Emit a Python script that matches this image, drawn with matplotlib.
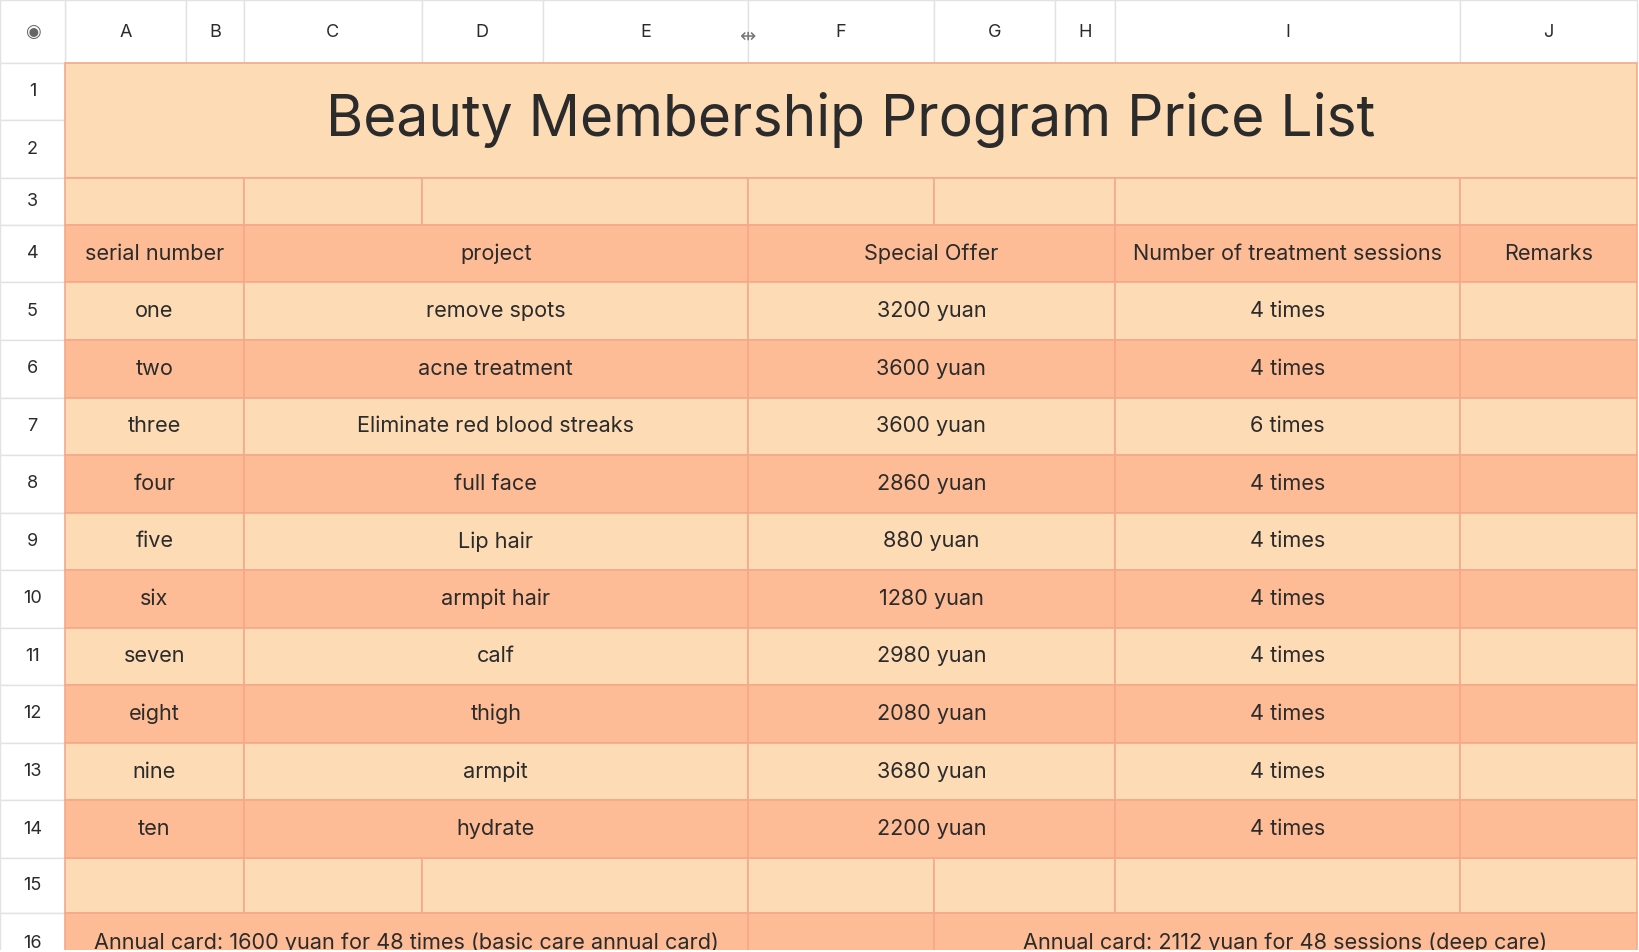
import matplotlib.pyplot as plt
from matplotlib.patches import Rectangle

plt.rcParams['font.family'] = ['Inter', 'DejaVu Sans']

col_letters = ["A", "B", "C", "D", "E", "F", "G", "H", "I", "J"]
col_edges = [62, 178, 233, 403, 519, 715, 893, 1009, 1066, 1396, 1565]
row_edges = [60, 115, 170, 215, 270, 325, 380, 435, 490, 545, 600, 655, 710, 765, 820, 873, 930]

title = "Beauty Membership Program Price List"
headers = ["serial number", "project", "Special Offer", "Number of treatment sessions", "Remarks"]
serials = ["one", "two", "three", "four", "five", "six", "seven", "eight", "nine", "ten"]
projects = ["remove spots", "acne treatment", "Eliminate red blood streaks", "full face", "Lip hair",
            "armpit hair", "calf", "thigh", "armpit", "hydrate"]
prices = [3200, 3600, 3600, 2860, 880, 1280, 2980, 2080, 3680, 2200]
sessions = [4, 4, 6, 4, 4, 4, 4, 4, 4, 4]
footer = ["Annual card: 1600 yuan for 48 times (basic care annual card)",
          "Annual card: 2112 yuan for 48 sessions (deep care)"]

LIGHT = "#fddbb5"
DARK = "#fdbc95"
LINE = "#f5a98a"
HDR_LINE = "#e2e2e2"
TXT = "#2b2b2b"
BODY = 15.6

W, H = 1568, 910
fig = plt.figure(figsize=(16.4, 9.52), dpi=100)
ax = fig.add_axes([0, 0, 1, 1])
ax.set_xlim(0, W)
ax.set_ylim(H, 0)
ax.axis("off")
ax.add_patch(Rectangle((0, 0), W, H, facecolor="white", edgecolor="none"))


def cell(x0, x1, y0, y1, color, text=None, size=BODY):
    ax.add_patch(Rectangle((x0, y0), x1 - x0, y1 - y0, facecolor=color,
                           edgecolor=LINE, linewidth=1.2, clip_on=True))
    if text:
        ax.text((x0 + x1) / 2, (y0 + y1) / 2, text, ha="center", va="center",
                fontsize=size, color=TXT, clip_on=True)


def row_span(r):
    return row_edges[r - 1], row_edges[r]


# column header strip
for i, c in enumerate(col_letters):
    x0, x1 = col_edges[i], col_edges[i + 1]
    ax.add_patch(Rectangle((x0, 0), x1 - x0, 60, facecolor="white", edgecolor=HDR_LINE, linewidth=1))
    ax.text((x0 + x1) / 2, 31, c, ha="center", va="center", fontsize=13, color=TXT)
ax.add_patch(Rectangle((0, 0), 62, 60, facecolor="white", edgecolor=HDR_LINE, linewidth=1))
ax.text(31, 31, "\u25c9", ha="center", va="center", fontsize=13, color="#666666")
ax.text(714, 35, "\u21f9", ha="center", va="center", fontsize=14, color="#777777")

# row header strip
for r in range(1, 17):
    y0, y1 = row_span(r)
    ax.add_patch(Rectangle((0, y0), 62, y1 - y0, facecolor="white", edgecolor=HDR_LINE, linewidth=1))
    ax.text(31, (y0 + y1) / 2, str(r), ha="center", va="center", fontsize=13, color=TXT, clip_on=True)

e = col_edges
# title
cell(e[0], e[10], row_edges[0], row_edges[2], LIGHT, title, size=41)

# empty rows 3 and 15
for r in (3, 15):
    y0, y1 = row_span(r)
    for a, b in [(0, 2), (2, 3), (3, 5), (5, 6), (6, 8), (8, 9), (9, 10)]:
        cell(e[a], e[b], y0, y1, LIGHT)

# header row + data rows
groups = [(0, 2), (2, 5), (5, 8), (8, 9), (9, 10)]
y0, y1 = row_span(4)
for (a, b), h in zip(groups, headers):
    cell(e[a], e[b], y0, y1, DARK, h)
for i in range(len(serials)):
    r = 5 + i
    y0, y1 = row_span(r)
    color = DARK if r % 2 == 0 else LIGHT
    vals = [serials[i], projects[i], f"{prices[i]} yuan", f"{sessions[i]} times", ""]
    for (a, b), v in zip(groups, vals):
        cell(e[a], e[b], y0, y1, color, v)

# footer row
y0, y1 = row_span(16)
cell(e[0], e[5], y0, y1, DARK, None)
cell(e[5], e[6], y0, y1, DARK, None)
cell(e[6], e[10], y0, y1, DARK, None)
ax.text((e[0] + e[5]) / 2, 901, footer[0], ha="center", va="center", fontsize=BODY, color=TXT)
ax.text((e[6] + e[10]) / 2, 901, footer[1], ha="center", va="center", fontsize=BODY, color=TXT)
ax.add_patch(Rectangle((0, 908), W, 10, facecolor="white", edgecolor="none", zorder=5))

fig.savefig("out.png", dpi=100)
